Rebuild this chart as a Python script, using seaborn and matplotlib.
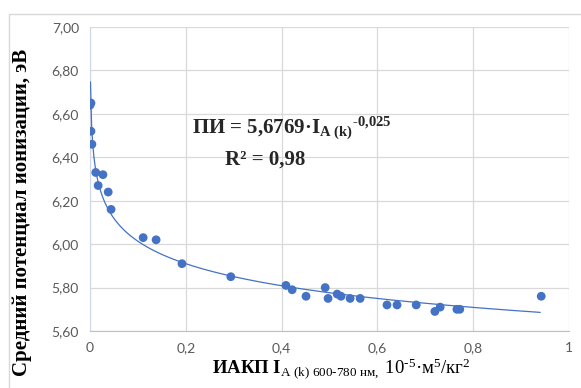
import numpy as np
import pandas as pd
import matplotlib.pyplot as plt
import seaborn as sns
from matplotlib.patches import Rectangle

# values
iakp = [0.000, 0.002, 0.002, 0.004, 0.012, 0.017, 0.027, 0.038, 0.044,
        0.111, 0.138, 0.192, 0.294, 0.409, 0.422, 0.451, 0.491, 0.497,
        0.516, 0.524, 0.543, 0.564, 0.620, 0.641, 0.681, 0.720, 0.731,
        0.766, 0.772, 0.942]
pi_ev = [6.64, 6.65, 6.52, 6.46, 6.33, 6.27, 6.32, 6.24, 6.16,
         6.03, 6.02, 5.91, 5.85, 5.81, 5.79, 5.76, 5.80, 5.75,
         5.77, 5.76, 5.75, 5.75, 5.72, 5.72, 5.72, 5.69, 5.71,
         5.70, 5.70, 5.76]

# power trend from the chart label
coef_a = 5.6769
coef_b = -0.025
trend_x = np.linspace(0.001, 0.94, 400)

y_ticks = [5.6, 5.8, 6.0, 6.2, 6.4, 6.6, 6.8, 7.0]
x_ticks = [0, 0.2, 0.4, 0.6, 0.8, 1.0]
x_tick_labels = ["0", "0,2", "0,4", "0,6", "0,8", "1"]

sns.set_style("white")
plt.rcParams.update({
    "mathtext.fontset": "custom",
    "mathtext.rm": "Liberation Serif",
    "mathtext.it": "Liberation Serif",
    "mathtext.bf": "Liberation Serif:bold",
})

df = pd.DataFrame({"x": iakp, "y": pi_ev})
trend = pd.DataFrame({"x": trend_x, "y": coef_a * trend_x ** coef_b})

blue = "#4472C4"
fig = plt.figure(figsize=(5.81, 3.88), dpi=100)
ax = fig.add_axes([90 / 581, 1 - 331 / 388, (569 - 90) / 581, (331 - 27) / 388])

sns.lineplot(data=trend, x="x", y="y", color=blue, linewidth=0.9, ax=ax, zorder=3)
sns.scatterplot(data=df, x="x", y="y", color=blue, s=40, edgecolor="none", ax=ax, zorder=4)

ax.set_xlim(0, 1)
ax.set_ylim(5.6, 7.0)
ax.set_xticks(x_ticks)
ax.set_xticklabels(x_tick_labels)
ax.set_yticks(y_ticks)
ax.set_yticklabels([f"{v:.2f}".replace(".", ",") for v in y_ticks])
ax.tick_params(labelsize=10, colors="#595959", length=0, pad=8)
for lab in ax.get_xticklabels() + ax.get_yticklabels():
    lab.set_family("Lato")
ax.grid(True, color="#D9D9D9", linewidth=0.9)
for side in ["top", "right"]:
    ax.spines[side].set_visible(False)
ax.spines["left"].set_color("#D0D7E5")
ax.spines["bottom"].set_color("#BFBFBF")

ax.set_xlabel("ИАКП I$_{\\mathrm{A\\ (k)\\ 600‐780\\ нм,}}$ $\\mathrm{10^{‐5}·м^{5}/кг^{2}}$",
              family="Liberation Serif", fontweight="bold", fontsize=13.5, color="black")
ax.set_ylabel("Средний потенциал ионизации, эВ", family="Liberation Serif",
              fontweight="bold", fontsize=15, color="black")
ax.xaxis.set_label_coords(0.524, -0.085)
ax.yaxis.set_label_coords(-0.122, 0.39)

ax.text(0.212, 0.665, "ПИ = 5,6769·I$_{\\mathbf{A\\ (k)}}$$^{\\mathbf{‐0{,}025}}$",
        transform=ax.transAxes, ha="left", va="center", family="Liberation Serif",
        fontweight="bold", fontsize=15)
ax.text(0.365, 0.565, "R² = 0,98",
        transform=ax.transAxes, ha="center", va="center", family="Liberation Serif",
        fontweight="bold", fontsize=15)

fig.patches.append(Rectangle((9 / 581, -0.1), 1.2, 1 - 14 / 388 + 0.1,
                             transform=fig.transFigure, fill=False,
                             edgecolor="#D9D9D9", linewidth=1))

fig.savefig("out.png", dpi=100)
